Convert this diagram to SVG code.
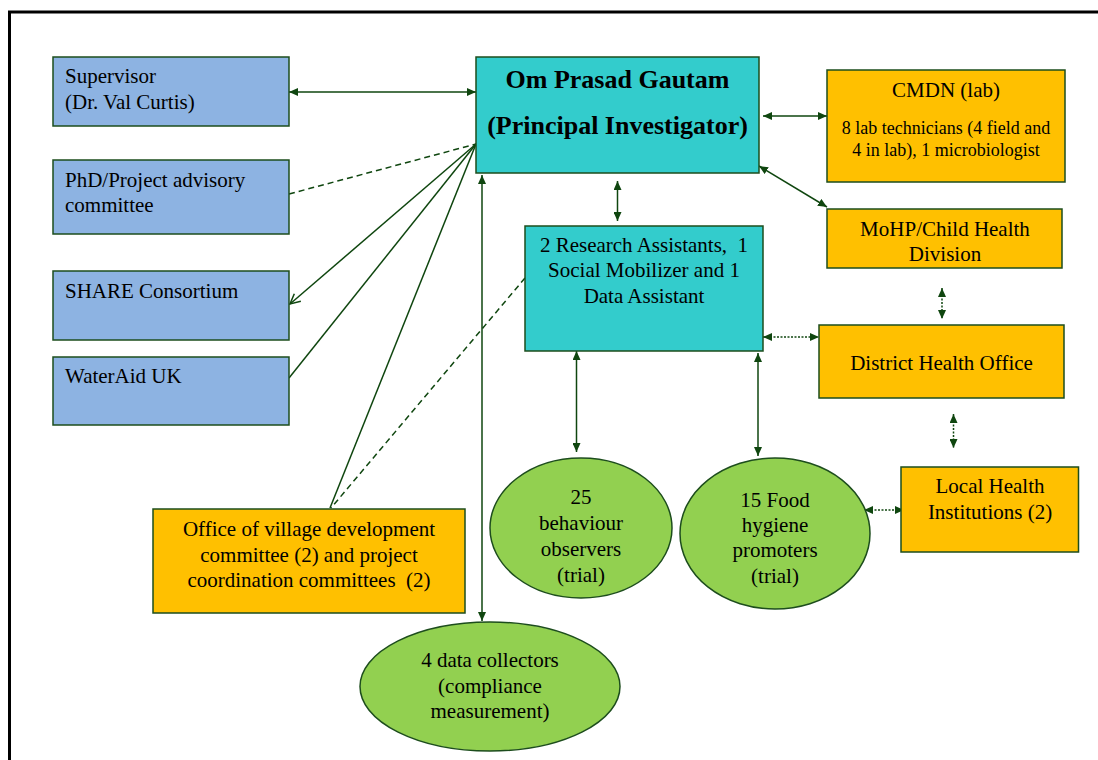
<svg xmlns="http://www.w3.org/2000/svg" width="1098" height="760" viewBox="0 0 1098 760">
<defs>
<style>
text{font-family:"Liberation Serif","Times New Roman",serif;font-size:21px;fill:#000;white-space:pre}
.c{text-anchor:middle}
.b{font-weight:bold;font-size:26px}
.s{font-size:18px}
.blue{fill:#8DB3E2;stroke:#1d4d1d;stroke-width:1.5}
.cyan{fill:#33CCCC;stroke:#1d4d1d;stroke-width:1.5}
.orange{fill:#FFC000;stroke:#1d4d1d;stroke-width:1.5}
.green{fill:#92D050;stroke:#1d4d1d;stroke-width:1.5}
.ln{stroke:#0f460f;stroke-width:1.5;fill:none}
.dash{stroke-dasharray:6 4}
.dot{stroke-dasharray:2 1.5}
.arr{marker-start:url(#ah);marker-end:url(#ah)}
</style>
<marker id="ah" markerUnits="userSpaceOnUse" viewBox="0 0 9 8" refX="9" refY="4" markerWidth="9" markerHeight="8" orient="auto-start-reverse">
<path d="M0,0 L9,4 L0,8 z" fill="#0f460f"/>
</marker>
<marker id="open" markerUnits="userSpaceOnUse" viewBox="0 0 12 12" refX="11" refY="6" markerWidth="12" markerHeight="12" orient="auto">
<path d="M1,1 L11,6 L1,11" fill="none" stroke="#0f460f" stroke-width="1.5"/>
</marker>
</defs>
<rect width="1098" height="760" fill="#fff"/>
<path d="M9.5,762 V12 H1100" fill="none" stroke="#000" stroke-width="3"/>

<g id="connectors">
<line class="ln arr" x1="289" y1="92" x2="476" y2="92"/>
<line class="ln dash" x1="289" y1="194" x2="476" y2="144"/>
<line class="ln" x1="476" y1="144" x2="290" y2="304" marker-end="url(#open)"/>
<line class="ln" x1="289" y1="378" x2="476" y2="144"/>
<line class="ln" x1="476" y1="144" x2="330" y2="508"/>
<line class="ln dash" x1="525" y1="278" x2="331" y2="508"/>
<line class="ln arr" x1="482" y1="175" x2="482" y2="621"/>
<line class="ln arr" x1="617.5" y1="181" x2="617.5" y2="221"/>
<line class="ln arr" x1="763" y1="116" x2="827" y2="116"/>
<line class="ln arr" x1="759" y1="166" x2="827" y2="207"/>
<line class="ln arr" x1="576.5" y1="351" x2="576.5" y2="452"/>
<line class="ln arr" x1="758" y1="353" x2="758" y2="456"/>
<line class="ln dot arr" x1="763" y1="337" x2="819" y2="337"/>
<line class="ln dot arr" x1="942" y1="288" x2="942" y2="319"/>
<line class="ln dot arr" x1="953.5" y1="414" x2="953.5" y2="448"/>
<line class="ln dot arr" x1="864" y1="510" x2="904" y2="510"/>
</g>

<g id="supervisor">
<rect class="blue" x="53" y="57" width="236" height="69"/>
<text x="65" y="83">Supervisor</text>
<text x="65" y="109">(Dr. Val Curtis)</text>
</g>
<g id="advisory">
<rect class="blue" x="53" y="160" width="236" height="74"/>
<text x="65" y="187">PhD/Project advisory</text>
<text x="65" y="212">committee</text>
</g>
<g id="share">
<rect class="blue" x="53" y="271" width="236" height="69"/>
<text x="65" y="298">SHARE Consortium</text>
</g>
<g id="wateraid">
<rect class="blue" x="53" y="357" width="236" height="68"/>
<text x="65" y="383">WaterAid UK</text>
</g>

<g id="pi">
<rect class="cyan" x="476" y="57" width="283" height="116"/>
<text class="c b" x="617.5" y="88">Om Prasad Gautam</text>
<text class="c b" x="617.5" y="134">(Principal Investigator)</text>
</g>

<g id="cmdn">
<rect class="orange" x="827" y="70" width="238" height="112"/>
<text class="c" x="946" y="97">CMDN (lab)</text>
<text class="c s" x="946" y="134">8 lab technicians (4 field and</text>
<text class="c s" x="946" y="156">4 in lab), 1 microbiologist</text>
</g>

<g id="mohp">
<rect class="orange" x="827" y="209" width="235" height="59"/>
<text class="c" x="945" y="236">MoHP/Child Health</text>
<text class="c" x="945" y="261">Division</text>
</g>

<g id="research-assistants">
<rect class="cyan" x="525" y="226" width="238" height="125"/>
<text class="c" x="644" y="252">2 Research Assistants,  1</text>
<text class="c" x="644" y="277">Social Mobilizer and 1</text>
<text class="c" x="644" y="303">Data Assistant</text>
</g>

<g id="dho">
<rect class="orange" x="819" y="325" width="245" height="73"/>
<text class="c" x="941.5" y="370">District Health Office</text>
</g>

<g id="local-health">
<rect class="orange" x="901" y="467" width="177.5" height="85"/>
<text class="c" x="990" y="493">Local Health</text>
<text class="c" x="990" y="519">Institutions (2)</text>
</g>

<g id="vdc">
<rect class="orange" x="153" y="509" width="312" height="104"/>
<text class="c" x="309" y="536">Office of village development</text>
<text class="c" x="309" y="562">committee (2) and project</text>
<text class="c" x="309" y="587">coordination committees  (2)</text>
</g>

<g id="behaviour-observers">
<ellipse class="green" cx="581" cy="528" rx="91" ry="70"/>
<text class="c" x="581" y="504">25</text>
<text class="c" x="581" y="530">behaviour</text>
<text class="c" x="581" y="556">observers</text>
<text class="c" x="581" y="582">(trial)</text>
</g>

<g id="food-hygiene">
<ellipse class="green" cx="775" cy="533.5" rx="95" ry="75.5"/>
<text class="c" x="775" y="507">15 Food</text>
<text class="c" x="775" y="532">hygiene</text>
<text class="c" x="775" y="557">promoters</text>
<text class="c" x="775" y="583">(trial)</text>
</g>

<g id="data-collectors">
<ellipse class="green" cx="490" cy="686.5" rx="130" ry="64.5"/>
<text class="c" x="490" y="667">4 data collectors</text>
<text class="c" x="490" y="693">(compliance</text>
<text class="c" x="490" y="718">measurement)</text>
</g>
</svg>
